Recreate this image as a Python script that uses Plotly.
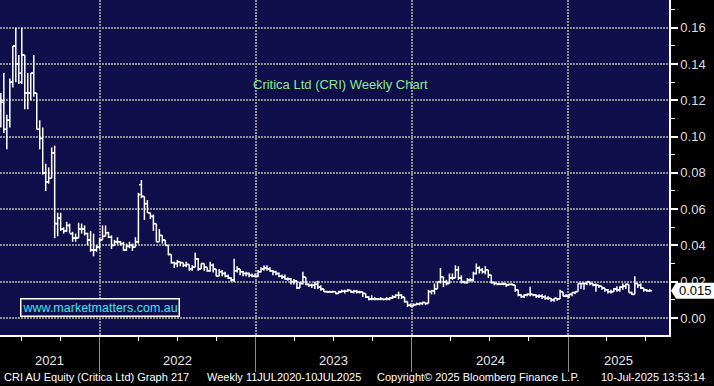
import pandas as pd
import plotly.graph_objects as go

# ---------------- data (weekly OHLC, AUD) ----------------
start_week = "2021-05-14"

open_ = [0.114, 0.120, 0.104, 0.109, 0.130, 0.150, 0.140, 0.130, 0.145, 0.124,
         0.124, 0.135, 0.124, 0.104, 0.099, 0.080, 0.075, 0.077, 0.091, 0.052,
         0.055, 0.049, 0.048, 0.051, 0.0465, 0.044, 0.044, 0.049, 0.049, 0.0465,
         0.043, 0.0375, 0.0375, 0.039, 0.043, 0.045, 0.047, 0.0445, 0.040, 0.042,
         0.042, 0.041, 0.0375, 0.0395, 0.040, 0.039, 0.042, 0.0735, 0.067, 0.063,
         0.058, 0.056, 0.052, 0.042, 0.0455, 0.043, 0.040, 0.035, 0.0305, 0.030,
         0.031, 0.0305, 0.029, 0.0295, 0.027, 0.028, 0.0325, 0.027, 0.030, 0.028,
         0.026, 0.029, 0.027, 0.023, 0.0255, 0.0245, 0.023, 0.022, 0.021, 0.026,
         0.027, 0.0255, 0.0245, 0.0245, 0.0235, 0.023, 0.023, 0.0255, 0.027, 0.0275,
         0.027, 0.026, 0.0255, 0.0245, 0.023, 0.0225, 0.0215, 0.0215, 0.020, 0.0205,
         0.0165, 0.019, 0.0225, 0.0185, 0.018, 0.018, 0.0185, 0.017, 0.016, 0.0145,
         0.0143, 0.0143, 0.0145, 0.0135, 0.0143, 0.0147, 0.0147, 0.0152, 0.0143, 0.0147,
         0.0143, 0.0143, 0.0135, 0.0115, 0.0105, 0.0105, 0.0105, 0.0103, 0.0105, 0.0103,
         0.0105, 0.011, 0.0115, 0.0125, 0.0125, 0.0115, 0.009, 0.007, 0.0065, 0.0073,
         0.0077, 0.008, 0.0085, 0.008, 0.0145, 0.015, 0.016, 0.020, 0.0227, 0.020,
         0.019, 0.022, 0.022, 0.0265, 0.022, 0.020, 0.0195, 0.021, 0.021, 0.0245,
         0.0275, 0.0265, 0.0255, 0.0265, 0.0237, 0.0195, 0.019, 0.0187, 0.0187, 0.0187,
         0.0182, 0.0185, 0.0182, 0.0155, 0.0127, 0.0118, 0.0127, 0.013, 0.013, 0.0127,
         0.012, 0.012, 0.0117, 0.0108, 0.0108, 0.010, 0.0108, 0.0105, 0.0145, 0.012,
         0.012, 0.013, 0.014, 0.0145, 0.019, 0.019, 0.019, 0.020, 0.019, 0.0182,
         0.018, 0.0175, 0.0165, 0.0155, 0.0145, 0.0145, 0.016, 0.0155, 0.017, 0.0175,
         0.0185, 0.014, 0.013, 0.019, 0.018, 0.0165, 0.0155, 0.015]

high_ = [0.124, 0.135, 0.112, 0.132, 0.150, 0.160, 0.145, 0.160, 0.145, 0.135,
         0.135, 0.145, 0.124, 0.109, 0.105, 0.085, 0.083, 0.094, 0.095, 0.058,
         0.058, 0.050, 0.053, 0.052, 0.0475, 0.0465, 0.0525, 0.052, 0.051, 0.047,
         0.048, 0.0465, 0.040, 0.044, 0.051, 0.051, 0.0475, 0.0455, 0.043, 0.0445,
         0.0425, 0.042, 0.041, 0.042, 0.041, 0.0445, 0.069, 0.076, 0.067, 0.065,
         0.058, 0.057, 0.052, 0.049, 0.0455, 0.043, 0.040, 0.035, 0.031, 0.032,
         0.031, 0.0305, 0.031, 0.0295, 0.029, 0.036, 0.033, 0.030, 0.030, 0.028,
         0.031, 0.030, 0.027, 0.027, 0.0265, 0.0255, 0.024, 0.0225, 0.0327, 0.0285,
         0.027, 0.026, 0.0255, 0.025, 0.0245, 0.0245, 0.0265, 0.028, 0.029, 0.029,
         0.028, 0.0265, 0.026, 0.025, 0.024, 0.024, 0.0225, 0.022, 0.0215, 0.0205,
         0.020, 0.0255, 0.0225, 0.019, 0.019, 0.020, 0.0205, 0.018, 0.016, 0.015,
         0.015, 0.015, 0.0145, 0.015, 0.0155, 0.0155, 0.016, 0.0155, 0.0155, 0.0155,
         0.015, 0.0145, 0.0135, 0.012, 0.0125, 0.0115, 0.011, 0.0115, 0.0105, 0.0115,
         0.0115, 0.0125, 0.013, 0.0145, 0.013, 0.0115, 0.009, 0.008, 0.008, 0.0085,
         0.0085, 0.009, 0.0085, 0.0155, 0.0155, 0.019, 0.020, 0.0275, 0.0227, 0.021,
         0.0245, 0.0245, 0.029, 0.0285, 0.0235, 0.0205, 0.022, 0.022, 0.0255, 0.030,
         0.0285, 0.0275, 0.0285, 0.0265, 0.0237, 0.020, 0.019, 0.019, 0.0195, 0.019,
         0.019, 0.019, 0.0182, 0.0155, 0.013, 0.013, 0.0135, 0.0172, 0.013, 0.013,
         0.013, 0.013, 0.0125, 0.012, 0.011, 0.011, 0.011, 0.0155, 0.0145, 0.013,
         0.013, 0.014, 0.0145, 0.019, 0.019, 0.0195, 0.020, 0.020, 0.019, 0.019,
         0.018, 0.0175, 0.0165, 0.016, 0.0155, 0.0165, 0.0175, 0.0175, 0.019, 0.019,
         0.0185, 0.0145, 0.023, 0.019, 0.019, 0.0165, 0.016, 0.016]

low_ = [0.105, 0.102, 0.093, 0.105, 0.127, 0.130, 0.129, 0.129, 0.115, 0.115,
        0.120, 0.122, 0.104, 0.093, 0.079, 0.070, 0.074, 0.077, 0.044, 0.045,
        0.048, 0.0465, 0.0475, 0.047, 0.042, 0.042, 0.044, 0.0465, 0.0455, 0.040,
        0.0365, 0.034, 0.0365, 0.038, 0.043, 0.045, 0.044, 0.038, 0.040, 0.0405,
        0.040, 0.037, 0.037, 0.0385, 0.037, 0.039, 0.041, 0.066, 0.054, 0.058,
        0.0545, 0.048, 0.042, 0.042, 0.041, 0.040, 0.0345, 0.030, 0.0275, 0.028,
        0.0285, 0.028, 0.028, 0.026, 0.026, 0.028, 0.026, 0.027, 0.026, 0.0255,
        0.0255, 0.025, 0.023, 0.023, 0.023, 0.0225, 0.0215, 0.020, 0.0198, 0.025,
        0.0235, 0.023, 0.023, 0.0225, 0.0225, 0.0225, 0.0225, 0.025, 0.026, 0.026,
        0.0255, 0.0235, 0.0235, 0.0225, 0.0215, 0.021, 0.0205, 0.0185, 0.0185, 0.016,
        0.0165, 0.0185, 0.018, 0.017, 0.0165, 0.016, 0.016, 0.015, 0.0145, 0.014,
        0.014, 0.014, 0.013, 0.0135, 0.014, 0.0135, 0.0145, 0.014, 0.0135, 0.0135,
        0.0135, 0.0115, 0.011, 0.0097, 0.0097, 0.0097, 0.0097, 0.0097, 0.0097, 0.0097,
        0.0097, 0.0105, 0.011, 0.0105, 0.0105, 0.0085, 0.006, 0.006, 0.0065, 0.007,
        0.007, 0.0072, 0.0072, 0.008, 0.013, 0.013, 0.016, 0.019, 0.017, 0.018,
        0.019, 0.021, 0.022, 0.021, 0.019, 0.019, 0.019, 0.020, 0.020, 0.024,
        0.0245, 0.0245, 0.024, 0.022, 0.019, 0.018, 0.018, 0.018, 0.018, 0.017,
        0.018, 0.018, 0.0145, 0.012, 0.011, 0.011, 0.012, 0.012, 0.012, 0.011,
        0.011, 0.0105, 0.010, 0.010, 0.009, 0.009, 0.0095, 0.0105, 0.012, 0.0115,
        0.011, 0.012, 0.013, 0.0145, 0.016, 0.0155, 0.018, 0.018, 0.0175, 0.0145,
        0.0165, 0.0155, 0.0145, 0.0135, 0.0135, 0.0145, 0.0145, 0.0145, 0.0155, 0.016,
        0.014, 0.0127, 0.013, 0.0165, 0.016, 0.0145, 0.0145, 0.0145]

close_ = [0.119, 0.104, 0.109, 0.130, 0.150, 0.140, 0.135, 0.145, 0.124, 0.124,
          0.135, 0.124, 0.104, 0.099, 0.080, 0.075, 0.077, 0.091, 0.052, 0.055,
          0.049, 0.048, 0.051, 0.0465, 0.044, 0.044, 0.049, 0.049, 0.0465, 0.043,
          0.0375, 0.0375, 0.039, 0.043, 0.045, 0.047, 0.0445, 0.040, 0.042, 0.042,
          0.041, 0.0375, 0.0395, 0.040, 0.039, 0.042, 0.068, 0.067, 0.063, 0.058,
          0.056, 0.052, 0.042, 0.0455, 0.043, 0.040, 0.035, 0.0305, 0.030, 0.031,
          0.0305, 0.029, 0.0295, 0.027, 0.028, 0.0325, 0.027, 0.030, 0.028, 0.026,
          0.029, 0.027, 0.023, 0.0255, 0.0245, 0.023, 0.022, 0.021, 0.026, 0.027,
          0.0255, 0.0245, 0.0245, 0.0235, 0.023, 0.023, 0.0255, 0.027, 0.0275, 0.027,
          0.026, 0.0255, 0.0245, 0.023, 0.0225, 0.0215, 0.0215, 0.020, 0.0205, 0.0165,
          0.019, 0.0225, 0.0185, 0.018, 0.018, 0.0185, 0.017, 0.016, 0.0145, 0.0143,
          0.0143, 0.0145, 0.0135, 0.0143, 0.0147, 0.0147, 0.0152, 0.0143, 0.0147, 0.0143,
          0.0143, 0.0135, 0.0115, 0.0105, 0.0105, 0.0105, 0.0103, 0.0105, 0.0103, 0.0105,
          0.011, 0.0115, 0.0125, 0.0125, 0.0115, 0.009, 0.007, 0.0065, 0.0073, 0.0077,
          0.008, 0.0085, 0.008, 0.0145, 0.015, 0.016, 0.020, 0.0227, 0.020, 0.019,
          0.022, 0.022, 0.0265, 0.022, 0.020, 0.0195, 0.021, 0.021, 0.0245, 0.0275,
          0.0265, 0.0255, 0.0265, 0.0237, 0.0195, 0.019, 0.0187, 0.0187, 0.0187, 0.0182,
          0.0185, 0.0182, 0.0155, 0.0127, 0.0118, 0.0127, 0.013, 0.013, 0.0127, 0.012,
          0.012, 0.0117, 0.0108, 0.0108, 0.010, 0.0108, 0.0105, 0.0145, 0.012, 0.012,
          0.013, 0.014, 0.0145, 0.019, 0.019, 0.019, 0.020, 0.019, 0.0182, 0.018,
          0.0175, 0.0165, 0.0155, 0.0145, 0.0145, 0.016, 0.0155, 0.017, 0.0175, 0.0185,
          0.014, 0.013, 0.019, 0.018, 0.0165, 0.0155, 0.015, 0.015]

y_ticks = [0.00, 0.02, 0.04, 0.06, 0.08, 0.10, 0.12, 0.14, 0.16]
year_bounds = ["2022-01-01", "2023-01-01", "2024-01-01", "2025-01-01"]
year_labels = ["2021", "2022", "2023", "2024", "2025"]
title_text = "Critica Ltd (CRI) Weekly Chart"
watermark = "www.marketmatters.com.au"
footer_parts = ["CRI AU Equity (Critica Ltd) Graph 217",
                "Weekly 11JUL2020-10JUL2025",
                "Copyright\u00a9 2025 Bloomberg Finance L.P.",
                "10-Jul-2025 13:53:14"]

# ---------------- styling ----------------
W, H = 714, 386
M_L, M_R, M_T, M_B = 0, 45, 0, 51
PW, PH = W - M_L - M_R, H - M_T - M_B
BG = "#0f0e4a"
GRID = "#8e8e8e"
x_range = ["2021-05-12", "2025-08-25"]
y_range = [-0.0094, 0.1753]

dates = pd.date_range(start_week, periods=len(close_), freq="W-FRI")
half = pd.Timedelta(days=5.5)

xs, ys = [], []
for d, o, h, l, c in zip(dates, open_, high_, low_, close_):
    xs += [d, d, None, d - half, d, None, d, d + half, None]
    ys += [l, h, None, o, o, None, c, c, None]
xs = [x.strftime("%Y-%m-%d %H:%M") if x is not None else None for x in xs]

fig = go.Figure()
fig.add_trace(go.Scatter(x=xs, y=ys, mode="lines",
                         line=dict(color="white", width=1.5),
                         connectgaps=False, hoverinfo="skip", showlegend=False))

FONT = "Liberation Sans, Arial, sans-serif"

fig.update_layout(
    width=W, height=H, autosize=False,
    margin=dict(l=M_L, r=M_R, t=M_T, b=M_B, pad=0),
    paper_bgcolor="black", plot_bgcolor=BG,
    showlegend=False,
    font=dict(family=FONT, color="#e6e6e6", size=13),
    xaxis=dict(
        type="date", range=x_range, automargin=False,
        tickmode="array", tickvals=year_bounds, showticklabels=False,
        ticks="outside", ticklen=35, tickcolor="#8a8a8a", tickwidth=1,
        showgrid=True, gridcolor=GRID, gridwidth=1.5, griddash="1.5px,1.5px",
        showline=True, linecolor="white", linewidth=1.5, zeroline=False,
        minor=dict(dtick="M3", tick0="2021-01-01", ticks="outside", ticklen=4,
                   tickcolor="white", tickwidth=1, showgrid=False),
    ),
    yaxis=dict(
        side="right", range=y_range, automargin=False,
        tickmode="array", tickvals=y_ticks, tickformat=".2f",
        ticks="outside", ticklen=7, tickwidth=2, tickcolor="white",
        tickfont=dict(family=FONT, color="#dedede", size=13),
        showgrid=True, gridcolor=GRID, gridwidth=1.5, griddash="1.5px,1.5px",
        showline=True, linecolor="white", linewidth=1.5, zeroline=False,
        minor=dict(dtick=0.01, tick0=0, ticks="outside", ticklen=4,
                   tickcolor="white", tickwidth=1, showgrid=False),
    ),
)

# year labels centred in the visible part of each year
edges = [pd.Timestamp(x_range[0])] + [pd.Timestamp(b) for b in year_bounds] + [pd.Timestamp(x_range[1])]
for lab, a, b in zip(year_labels, edges[:-1], edges[1:]):
    mid = a + (b - a) / 2
    fig.add_annotation(x=mid.strftime("%Y-%m-%d"), xref="x", y=-(361 - PH) / PH, yref="paper",
                       text=lab, showarrow=False, xanchor="center", yanchor="middle",
                       font=dict(family=FONT, size=13, color="#e8e8e8"))

# title
fig.add_annotation(x=340 / PW, xref="paper", y=(PH - 84) / PH, yref="paper",
                   text=title_text, showarrow=False, xanchor="center", yanchor="middle",
                   font=dict(family=FONT, size=13, color="#8ee88e"))

# watermark box
fig.add_annotation(x=20 / PW, xref="paper", y=(PH - 307) / PH, yref="paper",
                   text=watermark, showarrow=False, xanchor="left", yanchor="middle",
                   bgcolor=BG, bordercolor="white", borderwidth=1.5, borderpad=1,
                   font=dict(family=FONT, size=12.5, color="#3ce4f4"))

# last price tag
last = close_[-1]
h_val = 8 * (y_range[1] - y_range[0]) / PH
x_tip, x_l, x_r = 671 / PW, 676 / PW, 714 / PW
fig.add_shape(type="path", xref="paper", yref="y", layer="above",
              path=f"M {x_tip},{last} L {x_l},{last + h_val} L {x_r},{last + h_val} "
                   f"L {x_r},{last - h_val} L {x_l},{last - h_val} Z",
              fillcolor="white", line=dict(width=0))
fig.add_annotation(x=(x_l + x_r) / 2, xref="paper", y=last, yref="y",
                   text=f"{last:.3f}", showarrow=False, xanchor="center", yanchor="middle",
                   font=dict(family=FONT, size=13, color="black"))

# footer
footer_x = [2, 205, 375, 599]
for t, px in zip(footer_parts, footer_x):
    fig.add_annotation(x=px / PW, xref="paper", y=-(377 - PH) / PH, yref="paper",
                       text=t, showarrow=False, xanchor="left", yanchor="middle",
                       font=dict(family=FONT, size=11, color="white"))

fig.write_html("out.html", config={"displayModeBar": False},
               post_script="document.body.style.margin='0';document.body.style.background='black';")
